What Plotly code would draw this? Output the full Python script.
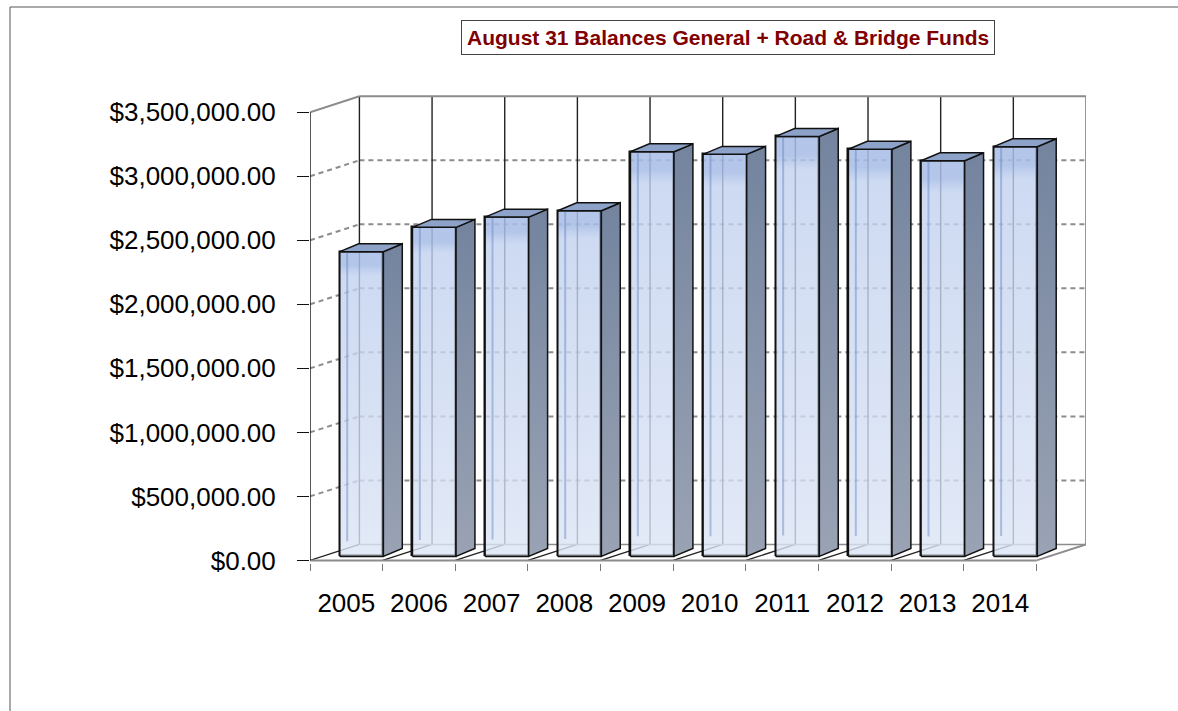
import plotly.graph_objects as go

# ---------------- data ----------------
years = ["2005", "2006", "2007", "2008", "2009", "2010", "2011", "2012", "2013", "2014"]
balances = [2380000, 2570000, 2650000, 2700000, 3160000, 3140000, 3280000, 3180000, 3090000, 3200000]
value_ticks = [0, 500000, 1000000, 1500000, 2000000, 2500000, 3000000, 3500000]
title_text = "August 31 Balances General + Road & Bridge Funds"

# ---------------- pseudo-3D geometry (styling) ----------------
BAR_W = 0.6
BAR_DX, BAR_DY = 0.26, 62000
WALL_DX, WALL_DY = 0.68, 125000
OFF_X = (WALL_DX - BAR_DX) / 2
OFF_Y = (WALL_DY - BAR_DY) / 2
VMAX = value_ticks[-1]
n = len(years)
xs = list(range(n))
FONT = "Arial, Liberation Sans, sans-serif"

fig = go.Figure()

# main bars (front faces)
fig.add_trace(go.Bar(
    x=[i + OFF_X for i in xs], y=balances, base=OFF_Y, width=BAR_W,
    marker=dict(color="rgba(200,214,240,0.55)", line=dict(color="#111", width=1.5)),
    showlegend=False, hoverinfo="skip"))

for i, v in enumerate(balances):
    x0 = i + OFF_X - BAR_W / 2
    x1 = x0 + BAR_W
    y0 = OFF_Y
    y1 = OFF_Y + v
    # gradient overlay on front face
    fig.add_trace(go.Scatter(
        x=[x0, x1, x1, x0, x0], y=[y0, y0, y1, y1, y0], mode="lines", fill="toself",
        line=dict(color="#111", width=1.5),
        fillgradient=dict(type="vertical", colorscale=[
            [0, "rgba(228,235,247,0.55)"], [0.92, "rgba(190,207,238,0.55)"],
            [0.955, "rgba(160,184,228,0.7)"], [1, "rgba(160,184,228,0.7)"]]),
        showlegend=False, hoverinfo="skip"))
    # highlight line on front face
    hx = x0 + BAR_W * 0.17
    fig.add_trace(go.Scatter(
        x=[hx, hx], y=[y0 + v * 0.05, y1], mode="lines",
        line=dict(color="rgba(100,130,190,0.45)", width=2),
        showlegend=False, hoverinfo="skip"))
    # side face
    fig.add_trace(go.Scatter(
        x=[x1, x1 + BAR_DX, x1 + BAR_DX, x1, x1],
        y=[y0, y0 + BAR_DY, y1 + BAR_DY, y1, y0], mode="lines", fill="toself",
        line=dict(color="#111", width=1.5),
        fillgradient=dict(type="vertical", colorscale=[[0, "#9aa3b4"], [1, "#74849f"]]),
        showlegend=False, hoverinfo="skip"))
    # top face
    fig.add_trace(go.Scatter(
        x=[x0, x1, x1 + BAR_DX, x0 + BAR_DX, x0],
        y=[y1, y1, y1 + BAR_DY, y1 + BAR_DY, y1], mode="lines", fill="toself",
        fillcolor="#8da2c9", line=dict(color="#111", width=1.5),
        showlegend=False, hoverinfo="skip"))

# ---------------- walls, floor, grid ----------------
shapes = []


def seg(xa, ya, xb, yb, color, width, dash="solid"):
    shapes.append(dict(type="line", xref="x", yref="y", x0=xa, y0=ya, x1=xb, y1=yb,
                       line=dict(color=color, width=width, dash=dash), layer="below"))


GRAY = "#8c8c8c"
DARK = "#222222"
L = -0.5
R = n - 0.5
# dashed value gridlines on left and back walls
for v in value_ticks[1:-1]:
    seg(L, v, L + WALL_DX, v + WALL_DY, GRAY, 2, "5px,4px")
    seg(L + WALL_DX, v + WALL_DY, R + WALL_DX, v + WALL_DY, GRAY, 2, "5px,4px")
# back wall vertical lines
for k in range(n + 1):
    xk = k - 0.5 + WALL_DX
    seg(xk, WALL_DY, xk, VMAX + WALL_DY, GRAY if k == n else DARK, 1.4 if k < n else 1.8)
# floor lines
for k in range(n):
    seg(k - 0.5, 0, k - 0.5 + WALL_DX, WALL_DY, DARK, 1.3)
seg(R, 0, R + WALL_DX, WALL_DY, GRAY, 1.8)
seg(L + WALL_DX, WALL_DY, R + WALL_DX, WALL_DY, GRAY, 1.5)
seg(L, 0, R, 0, GRAY, 2)
# wall tops
seg(L + WALL_DX, VMAX + WALL_DY, R + WALL_DX, VMAX + WALL_DY, GRAY, 2)
seg(L, VMAX, L + WALL_DX, VMAX + WALL_DY, GRAY, 2)
# value axis line
seg(L, 0, L, VMAX, "#111", 1.4)

# outer frame (top & left edges visible)
shapes.append(dict(type="rect", xref="paper", yref="paper",
                   x0=(10 - 310) / 776, x1=1.3, y0=-0.5, y1=(563 - 7) / 468,
                   line=dict(color="#555", width=1), layer="below"))

fig.update_layout(
    width=1178, height=711,
    margin=dict(l=310, r=92, t=95, b=148),
    paper_bgcolor="white", plot_bgcolor="white",
    font=dict(family=FONT, size=26, color="black"),
    bargap=0,
    shapes=shapes,
    xaxis=dict(range=[-0.5, R + WALL_DX], tickmode="array", tickvals=xs, ticktext=years,
               ticks="", showgrid=False, zeroline=False, showline=False,
               tickfont=dict(size=26, color="black"), ticklabelstandoff=22,
               minor=dict(tickmode="array", tickvals=[k - 0.5 for k in range(n + 1)],
                          ticks="outside", ticklen=7, tickcolor="#777", tickwidth=1.3)),
    yaxis=dict(range=[-20000, VMAX + WALL_DY + 10000], tickmode="array", tickvals=value_ticks,
               tickformat="$,.2f", ticks="outside", ticklen=12, tickcolor="#111", tickwidth=1.3,
               showgrid=False, zeroline=False, showline=False,
               tickfont=dict(size=26, color="black"), ticklabelstandoff=16),
)

fig.add_annotation(
    xref="paper", yref="paper", x=(728 - 310) / 776, y=(563 - 38) / 468,
    xanchor="center", yanchor="middle", showarrow=False,
    text="<b>" + title_text.replace("&", "&amp;") + "</b>",
    font=dict(family=FONT, size=21, color="#800000"),
    bordercolor="#444", borderwidth=1, borderpad=5, bgcolor="white")

fig.write_html("out.html", config={"displayModeBar": False},
               post_script="document.body.style.margin='0';document.body.style.overflow='hidden';")
